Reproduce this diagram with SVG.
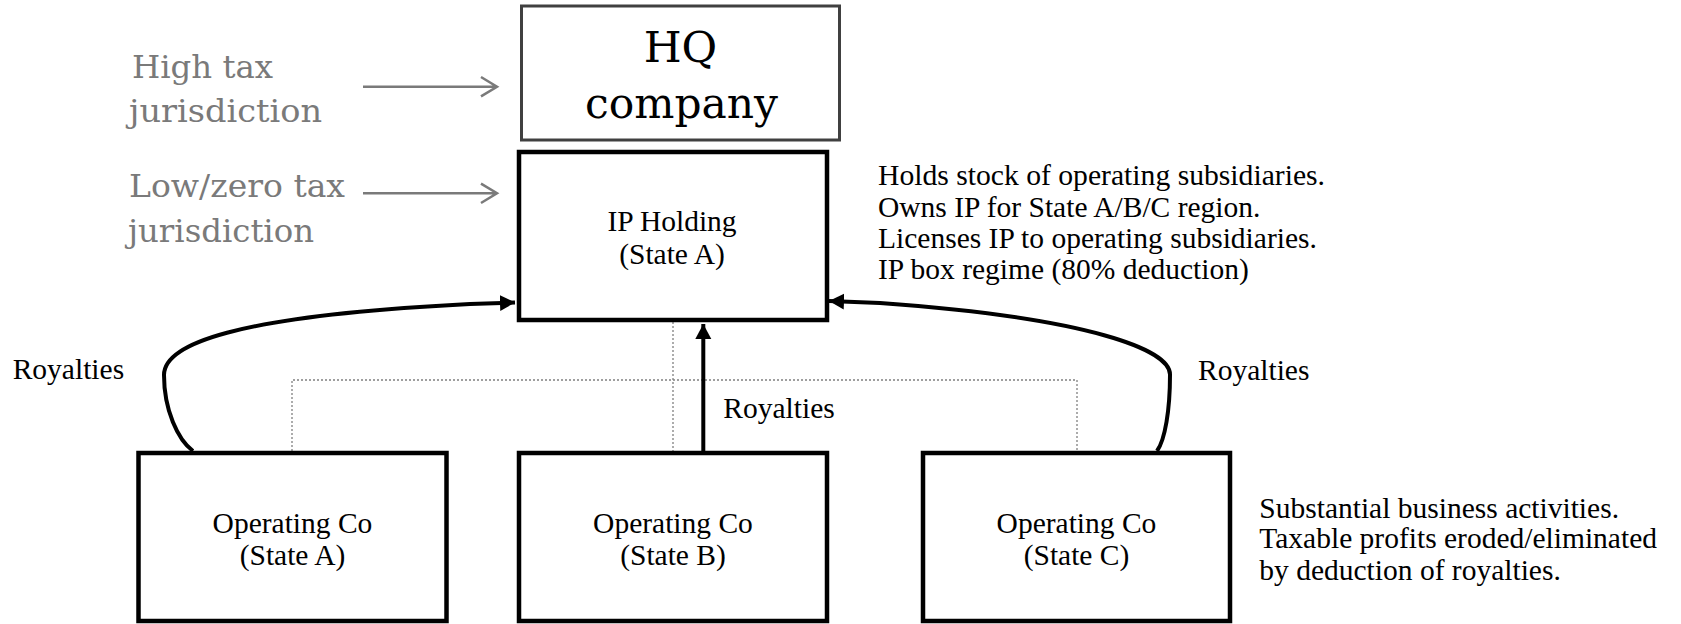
<svg xmlns="http://www.w3.org/2000/svg" width="1681" height="624" viewBox="0 0 1681 624">
<style>
.t{font-family:"Liberation Serif","Times New Roman",serif;font-size:29.5px;fill:#000}
.c{text-anchor:middle}
.g{font-family:"DejaVu Serif","Liberation Serif",serif;font-size:32px;fill:#7a7a7a}
.hq{font-family:"DejaVu Serif","Liberation Serif",serif;font-size:43.5px;fill:#000;text-anchor:middle}
.box{fill:#fff;stroke:#000;stroke-width:4.5}
.flow{fill:none;stroke:#000;stroke-width:4}
.dot{fill:none;stroke:#808080;stroke-width:1.3;stroke-dasharray:2 2}
.garr{fill:none;stroke:#7a7a7a;stroke-width:2.5}
</style>
<defs>
<marker id="ah" markerUnits="userSpaceOnUse" markerWidth="16" markerHeight="18" viewBox="0 0 16 18" refX="15" refY="9" orient="auto">
<path d="M0,1 L15,9 L0,17 Z" fill="#000"/>
</marker>
</defs>
<g id="labels-left">
<text class="g" x="132" y="77.7" textLength="141" lengthAdjust="spacingAndGlyphs">High tax</text>
<text class="g" x="129" y="121.7" textLength="193" lengthAdjust="spacingAndGlyphs">jurisdiction</text>
<text class="g" x="129" y="196.7" textLength="216" lengthAdjust="spacingAndGlyphs">Low/zero tax</text>
<text class="g" x="128" y="241.7" textLength="186" lengthAdjust="spacingAndGlyphs">jurisdiction</text>
<path class="garr" d="M363,86.7 H497 M481,77 L497,86.7 L481,96.4"/>
<path class="garr" d="M363,193.3 H497 M481,183.6 L497,193.3 L481,203"/>
</g>
<g id="connectors">
<path class="dot" d="M292,451 V380 H1077 V451"/>
<path class="dot" d="M673,322 V451"/>
<path class="flow" d="M193,451 C178,440 164,410 164,375 C164,345 230,316 470,304 L515,302.5" marker-end="url(#ah)"/>
<path class="flow" d="M1157,451 C1165,440 1170,410 1170,375 C1171,350 1090,318 880,303 L829,301" marker-end="url(#ah)"/>
<path class="flow" d="M703.3,451 V324" marker-end="url(#ah)"/>
<text class="t" x="12.7" y="379.3">Royalties</text>
<text class="t" x="1198" y="380">Royalties</text>
<text class="t" x="723.3" y="418.3">Royalties</text>
</g>
<g id="hq">
<rect x="521.5" y="6" width="318" height="134" fill="#fff" stroke="#404040" stroke-width="3"/>
<text class="hq" x="680.5" y="61.7">HQ</text>
<text class="hq" x="681.5" y="118.3" textLength="193" lengthAdjust="spacingAndGlyphs">company</text>
</g>
<g id="ip-holding">
<rect class="box" x="519" y="152" width="308" height="168"/>
<text class="t c" x="672" y="231">IP Holding</text>
<text class="t c" x="672" y="264">(State A)</text>
</g>
<g id="ip-notes">
<text class="t" x="878" y="185" textLength="447" lengthAdjust="spacingAndGlyphs">Holds stock of operating subsidiaries.</text>
<text class="t" x="878" y="216.7">Owns IP for State A/B/C region.</text>
<text class="t" x="878" y="248.3">Licenses IP to operating subsidiaries.</text>
<text class="t" x="878" y="279">IP box regime (80% deduction)</text>
</g>
<g id="opco-a">
<rect class="box" x="138.5" y="453" width="308" height="168"/>
<text class="t c" x="292.5" y="533">Operating Co</text>
<text class="t c" x="292.5" y="565">(State A)</text>
</g>
<g id="opco-b">
<rect class="box" x="519" y="453" width="308" height="168"/>
<text class="t c" x="673" y="533">Operating Co</text>
<text class="t c" x="673" y="565">(State B)</text>
</g>
<g id="opco-c">
<rect class="box" x="923" y="453" width="307" height="168"/>
<text class="t c" x="1076.5" y="533">Operating Co</text>
<text class="t c" x="1076.5" y="565">(State C)</text>
</g>
<g id="opco-notes">
<text class="t" x="1259.3" y="518.3">Substantial business activities.</text>
<text class="t" x="1259.3" y="548.3">Taxable profits eroded/eliminated</text>
<text class="t" x="1259.3" y="580">by deduction of royalties.</text>
</g>
</svg>
